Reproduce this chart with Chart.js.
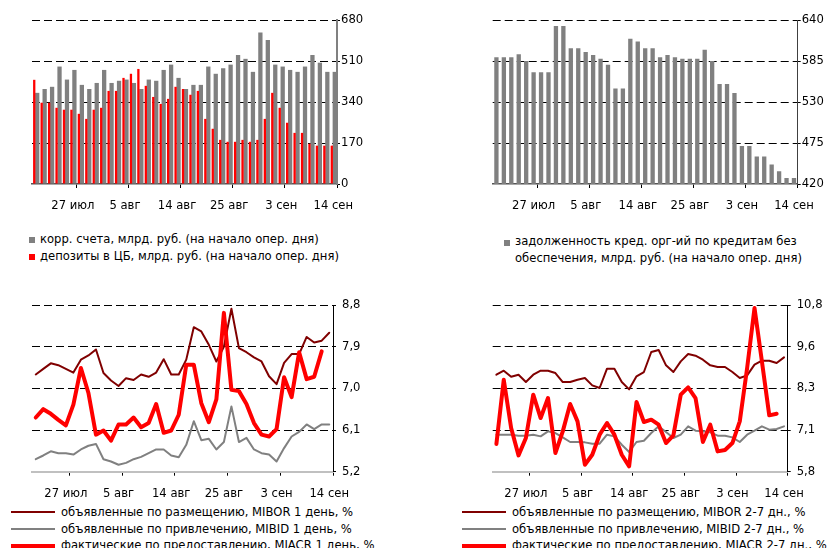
<!DOCTYPE html>
<html>
<head>
<meta charset="utf-8">
<script src="https://cdn.jsdelivr.net/npm/chart.js@4.4.0/dist/chart.umd.min.js"></script>
<style>
  body { margin: 0; background: #fff; width: 832px; height: 548px; overflow: hidden; position: relative;
         font-family: "DejaVu Sans", sans-serif; font-size: 11.6px; color: #000; }
  canvas { position: absolute; display: block; }
  .leg { position: absolute; white-space: nowrap; }
  .row { display: flex; align-items: center; }
  .sq { width: 6px; height: 6px; margin-right: 5px; flex: none; }
  .ln { width: 44px; margin-right: 6px; flex: none; }
</style>
</head>
<body>
<canvas id="c1" width="416" height="226" style="left:0;top:0"></canvas>
<canvas id="c2" width="416" height="226" style="left:416px;top:0"></canvas>
<canvas id="c3" width="416" height="215" style="left:0;top:285px"></canvas>
<canvas id="c4" width="416" height="215" style="left:416px;top:285px"></canvas>

<div class="leg" style="left:29px;top:231px;line-height:17px">
  <div class="row"><span class="sq" style="background:#808080"></span>корр. счета, млрд. руб. (на начало опер. дня)</div>
  <div class="row"><span class="sq" style="background:#ff0000"></span>депозиты в ЦБ, млрд. руб. (на начало опер. дня)</div>
</div>
<div class="leg" style="left:504px;top:233px;line-height:16.5px">
  <div class="row" style="align-items:flex-start"><span class="sq" style="background:#808080;margin-top:7px"></span>
    <div>задолженность кред. орг-ий по кредитам без<br>обеспечения, млрд. руб. (на начало опер. дня)</div></div>
</div>
<div class="leg" style="left:11px;top:504px;line-height:16.7px">
  <div class="row"><span class="ln" style="height:2px;background:#800000"></span>объявленные по размещению, MIBOR 1 день, %</div>
  <div class="row"><span class="ln" style="height:2px;background:#808080"></span>объявленные по привлечению, MIBID 1 день, %</div>
  <div class="row"><span class="ln" style="height:4px;background:#ff0000"></span>фактические по предоставлению, MIACR 1 день, %</div>
</div>
<div class="leg" style="left:462px;top:504px;line-height:16.7px">
  <div class="row"><span class="ln" style="height:2px;background:#800000"></span>объявленные по размещению, MIBOR 2-7 дн., %</div>
  <div class="row"><span class="ln" style="height:2px;background:#808080"></span>объявленные по привлечению, MIBID 2-7 дн., %</div>
  <div class="row"><span class="ln" style="height:4px;background:#ff0000"></span>фактические по предоставлению, MIACR 2-7 дн., %</div>
</div>

<script>
// date labels shown under the x axis
const tickLabels = ["27 июл", "5 авг", "14 авг", "25 авг", "3 сен", "14 сен"];

// top row: 41 days, bottom row: 40 days
const labelIdx41 = [5, 12, 19, 26, 33, 40];
const labelIdx40 = [4, 11, 18, 25, 32, 39];
const days41 = Array.from({ length: 41 }, (_, i) => tickLabels[labelIdx41.indexOf(i)] || "");
const days40 = Array.from({ length: 40 }, (_, i) => tickLabels[labelIdx40.indexOf(i)] || "");

// chart 1, млрд. руб.
const corrAccounts = [378, 394, 403, 487, 433, 473, 411, 394, 419, 473, 419, 428, 433, 419, 394, 433, 428, 473, 495, 440,
  394, 411, 411, 487, 457, 480, 495, 535, 519, 465, 628, 597, 495, 487, 473, 465, 487, 535, 503, 465, 465];
const cbDeposits = [432, 337, 337, 316, 308, 308, 291, 270, 308, 316, 386, 386, 440, 457, 477, 407, 361, 332, 353, 403,
  394, 370, 386, 270, 229, 183, 175, 175, 183, 175, 183, 270, 378, 316, 254, 212, 212, 167, 159, 159, 159];

// chart 2, млрд. руб.
const unsecuredDebt = [590, 590, 590, 594, 585, 570, 570, 570, 632, 632, 602, 602, 597, 593, 588, 580, 548, 548, 615, 611,
  602, 602, 590, 593, 590, 588, 588, 588, 600, 585, 554, 554, 542, 471, 471, 457, 457, 446, 437, 428, 428];

// chart 3, 1 день, %
const mibor1 = [7.30, 7.42, 7.54, 7.50, 7.42, 7.34, 7.62, 7.71, 7.84, 7.33, 7.17, 7.05, 7.22, 7.18, 7.30, 7.25, 7.34, 7.63, 7.30, 7.30,
  7.62, 8.32, 8.23, 7.94, 7.58, 7.90, 8.72, 7.87, 7.78, 7.67, 7.58, 7.26, 7.09, 7.55, 7.74, 7.74, 8.11, 7.99, 8.03, 8.20];
const mibid1 = [5.47, 5.55, 5.64, 5.60, 5.60, 5.57, 5.68, 5.76, 5.80, 5.47, 5.42, 5.35, 5.39, 5.47, 5.52, 5.60, 5.68, 5.68, 5.55, 5.51,
  5.78, 6.29, 5.88, 5.91, 5.68, 5.84, 6.61, 5.84, 5.93, 5.68, 5.60, 5.57, 5.42, 5.71, 5.96, 6.06, 6.22, 6.12, 6.22, 6.22];
const miacr1 = [6.37, 6.55, 6.45, 6.32, 6.20, 6.65, 7.44, 6.90, 6.00, 6.09, 5.87, 6.22, 6.22, 6.37, 6.16, 6.25, 6.66, 6.04, 6.09, 6.43,
  7.51, 7.51, 6.68, 6.27, 6.76, 8.63, 6.97, 6.94, 6.66, 6.25, 6.00, 5.96, 6.12, 7.24, 6.81, 7.78, 7.20, 7.25, 7.80, null];

// chart 4, 2-7 дн., %
const mibor27 = [8.71, 8.83, 8.65, 8.71, 8.49, 8.71, 8.83, 8.83, 8.76, 8.49, 8.49, 8.56, 8.61, 8.39, 8.31, 8.89, 8.89, 8.49, 8.27, 8.66,
  8.79, 9.39, 9.45, 8.99, 8.79, 9.11, 9.33, 9.28, 9.16, 8.99, 8.94, 8.94, 8.79, 8.61, 8.69, 9.01, 9.13, 9.13, 9.06, 9.23];
const mibid27 = [6.91, 6.91, 6.91, 6.88, 6.88, 6.91, 6.86, 7.01, 6.96, 6.83, 6.69, 6.69, 6.68, 6.64, 6.64, 6.91, 6.86, 6.61, 6.39, 6.69,
  6.73, 6.96, 7.16, 6.99, 6.81, 6.91, 7.16, 7.03, 7.01, 6.98, 6.88, 6.88, 6.83, 6.69, 6.91, 7.03, 7.16, 7.06, 7.08, 7.16];
const miacr27 = [6.63, 8.56, 7.11, 6.29, 6.81, 8.11, 7.41, 8.01, 6.36, 7.01, 7.83, 7.31, 6.01, 6.31, 6.91, 7.26, 6.91, 6.31, 5.96, 7.89,
  7.29, 7.36, 7.21, 6.66, 6.89, 8.11, 8.33, 8.01, 6.69, 7.21, 6.41, 6.45, 6.66, 7.31, 8.91, 10.71, 9.11, 7.49, 7.54, null];

// y axis ticks
const yTicks1 = [0, 170, 340, 510, 680];
const yTicks2 = [420, 475, 530, 585, 640];
const yTicks3 = [5.2, 6.1, 7.0, 7.9, 8.8];
const yLabels3 = ["5,2", "6,1", "7,0", "7,9", "8,8"];
const yTicks4 = [5.8, 7.05, 8.3, 9.55, 10.8];
const yLabels4 = ["5,8", "7,1", "8,3", "9,6", "10,8"];

const font = { family: "DejaVu Sans", size: 11.6 };

function xAxis(tickMarks, height, borderColor, borderWidth) {
  return {
    type: "category",
    offset: true,
    grid: {
      offset: true,
      drawOnChartArea: false,
      tickLength: 4,
      tickColor: (ctx) => (ctx.type === "scale" || tickMarks.includes(ctx.index)) ? "#000" : "rgba(0,0,0,0)"
    },
    border: { color: borderColor, width: borderWidth },
    ticks: { autoSkip: false, maxRotation: 0, minRotation: 0, padding: 11, color: "#000", font: font },
    afterFit: (s) => { s.height = height; }
  };
}

function yAxis(min, max, values, labels, width, borderColor, borderWidth, pad, z) {
  return {
    position: "right",
    min: min,
    max: max,
    z: z,
    afterBuildTicks: (s) => { s.ticks = values.map((v) => ({ value: v })); },
    afterFit: (s) => { s.width = width; },
    grid: {
      color: (ctx) => ctx.index === 0 ? "rgba(0,0,0,0)" : "#000",
      tickColor: "#000",
      tickLength: 3
    },
    border: { dash: [8, 4], color: borderColor, width: borderWidth },
    ticks: { padding: pad, color: "#000", font: font, callback: (v, i) => labels[i] }
  };
}

const common = { responsive: false, animation: false, plugins: { legend: { display: false }, tooltip: { enabled: false } } };

// chart 1: корр. счета и депозиты
new Chart(document.getElementById("c1"), {
  type: "bar",
  data: {
    labels: days41,
    datasets: [
      { label: "депозиты в ЦБ, млрд. руб. (на начало опер. дня)", data: cbDeposits, backgroundColor: "#ff0000",
        categoryPercentage: 0.8, barPercentage: 0.77 },
      { label: "корр. счета, млрд. руб. (на начало опер. дня)", data: corrAccounts, backgroundColor: "#808080",
        categoryPercentage: 0.8, barPercentage: 1.44 }
    ]
  },
  options: {
    ...common,
    layout: { padding: { left: 32, top: 20, right: 0, bottom: 0 } },
    scales: {
      x: xAxis([6, 13, 20, 27, 34], 42, "#555", 1.5),
      y: yAxis(0, 680, yTicks1, yTicks1.map(String), 79, "#808080", 2, 1, 1)
    }
  }
});

// chart 2: задолженность по кредитам без обеспечения
new Chart(document.getElementById("c2"), {
  type: "bar",
  data: {
    labels: days41,
    datasets: [
      { label: "задолженность кред. орг-ий по кредитам без обеспечения", data: unsecuredDebt, backgroundColor: "#808080",
        categoryPercentage: 1, barPercentage: 0.58 }
    ]
  },
  options: {
    ...common,
    layout: { padding: { left: 76.7, top: 20, right: 0, bottom: 0 } },
    scales: {
      x: xAxis([6, 13, 20, 27, 34], 42, "#555", 1.5),
      y: yAxis(420, 640, yTicks2, yTicks2.map(String), 34.3, "#404040", 1, 1, 1)
    }
  }
});

function rateChart(id, mibor, mibid, miacr, labels, padLeft, yWidth, yMin, yMax, yTicks, yLabels, suffix) {
  new Chart(document.getElementById(id), {
    type: "line",
    data: {
      labels: labels,
      datasets: [
        { label: "фактические по предоставлению, MIACR " + suffix, data: miacr, borderColor: "#ff0000", borderWidth: 4 },
        { label: "объявленные по размещению, MIBOR " + suffix, data: mibor, borderColor: "#800000", borderWidth: 2 },
        { label: "объявленные по привлечению, MIBID " + suffix, data: mibid, borderColor: "#808080", borderWidth: 2 }
      ]
    },
    options: {
      ...common,
      elements: { point: { radius: 0 }, line: { tension: 0, borderJoinStyle: "round", borderCapStyle: "round" } },
      layout: { padding: { left: padLeft, top: 20, right: 0, bottom: 0 } },
      scales: {
        x: xAxis([5, 12, 19, 26, 33], 28.3, "#c0c0c0", 2),
        y: yAxis(yMin, yMax, yTicks, yLabels, yWidth, "#000", 1, 6, 0)
      }
    }
  });
}

rateChart("c3", mibor1, mibid1, miacr1, days40, 32, 83, 5.2, 8.8, yTicks3, yLabels3, "1 день, %");
rateChart("c4", mibor27, mibid27, miacr27, days40, 76.7, 44.3, 5.8, 10.8, yTicks4, yLabels4, "2-7 дн., %");
</script>
</body>
</html>
